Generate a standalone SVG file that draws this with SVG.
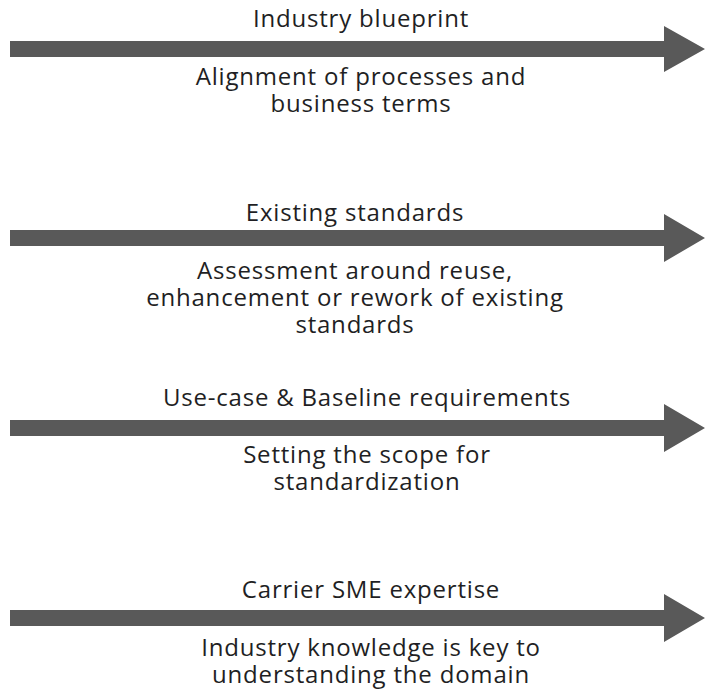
<svg xmlns="http://www.w3.org/2000/svg" width="705" height="691" viewBox="0 0 705 691">
<style>
.t{font-family:"Open Sans","Noto Sans","DejaVu Sans",sans-serif;font-size:24px;letter-spacing:0.8px;fill:#1f1f24;text-anchor:middle}
.a{fill:#595959}
</style>
<rect width="705" height="691" fill="#fff"/>
<g id="connectors">
<path class="a" d="M10,41H664V26L705,49L664,72V57H10Z"/>
<path class="a" d="M10,230H664V214L705,238L664,262V246H10Z"/>
<path class="a" d="M10,420H664V404L705,428L664,452V436H10Z"/>
<path class="a" d="M10,610H664V594L705,618L664,642V626H10Z"/>
</g>
<g id="n1">
<text class="t" x="361" y="27">Industry blueprint</text>
<text class="t" x="361" y="85">Alignment of processes and</text>
<text class="t" x="361" y="112">business terms</text>
</g>
<g id="n2">
<text class="t" x="355" y="221">Existing standards</text>
<text class="t" x="355" y="279">Assessment around reuse,</text>
<text class="t" x="355" y="306">enhancement or rework of existing</text>
<text class="t" x="355" y="333">standards</text>
</g>
<g id="n3">
<text class="t" x="367" y="406">Use-case &amp; Baseline requirements</text>
<text class="t" x="367" y="463">Setting the scope for</text>
<text class="t" x="367" y="490">standardization</text>
</g>
<g id="n4">
<text class="t" x="371" y="598">Carrier SME expertise</text>
<text class="t" x="371" y="656">Industry knowledge is key to</text>
<text class="t" x="371" y="683">understanding the domain</text>
</g>
</svg>
